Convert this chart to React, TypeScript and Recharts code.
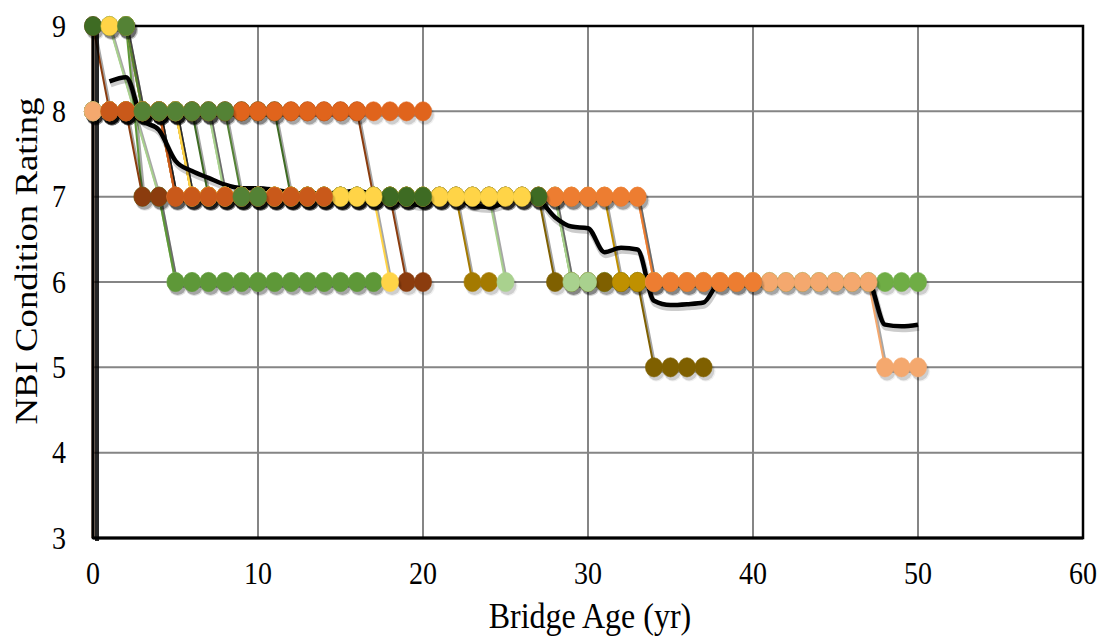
import React from "react";
import { LineChart, Line, XAxis, YAxis, CartesianGrid, ReferenceArea } from "recharts";

const xTicks = [0, 10, 20, 30, 40, 50, 60];
const yTicks = [3, 4, 5, 6, 7, 8, 9];

// one rating per year, starting at the given age
const greenBrightStart = 0;
const greenBrightRatings = [
  8, 8, 8, 8, 8,
  7, 7, 7, 7, 7, 7, 7, 7, 7, 7, 7, 7,
  7, 7, 7, 7, 7, 7, 7, 7, 7, 7, 7, 7,
  6, 6, 6, 6, 6, 6, 6, 6, 6, 6, 6,
  6, 6, 6, 6, 6, 6, 6, 6, 6, 6, 6,
];

const oliveDarkStart = 0;
const oliveDarkRatings = [
  8, 8, 8, 8, 8,
  7, 7, 7, 7, 7, 7, 7, 7, 7, 7, 7, 7,
  7, 7, 7, 7, 7, 7, 7, 7, 7, 7, 7,
  6, 6, 6, 6, 6, 6,
  5, 5, 5, 5,
];

const goldStart = 0;
const goldRatings = [
  8, 8, 8, 8, 8, 8,
  7, 7, 7, 7, 7, 7, 7, 7, 7, 7, 7, 7, 7,
  7, 7, 7, 7, 7, 7, 7, 7, 7, 7, 7, 7, 7,
  6, 6, 6,
];

const oliveStart = 0;
const oliveRatings = [
  8, 8, 8, 8, 8, 8,
  7, 7, 7, 7, 7, 7, 7, 7, 7, 7, 7, 7, 7, 7, 7, 7, 7,
  6, 6,
];

const lightGreenAStart = 1;
const lightGreenARatings = [9, null, null, 7, 6, 6, 6, 6, 6, 6, 6, 6, 6, 6, 6, 6, 6];

const greenMidStart = 2;
const greenMidRatings = [9, 7, 7, 6, 6, 6, 6, 6, 6, 6, 6, 6, 6, 6, 6, 6];

const brownAStart = 0;
const brownARatings = [9, 8, 8, 7, 7];

const brownBStart = 0;
const brownBRatings = [
  8, 8, 8, 8, 8, 8, 8, 8, 8, 8, 8, 8, 8, 8, 8, 8, 8,
  7, 7,
  6, 6,
];

const lightGreenBStart = 0;
const lightGreenBRatings = [
  8, 8, 8, 8, 8, 8, 8, 8,
  7, 7, 7, 7, 7, 7, 7, 7, 7, 7, 7, 7, 7, 7, 7, 7, 7,
  6,
];

const lightGreenCStart = 0;
const lightGreenCRatings = [
  8, 8, 8, 8, 8, 8, 8, 8,
  7, 7, 7, 7, 7, 7, 7, 7, 7, 7, 7,
  7, 7, 7, 7, 7, 7, 7, 7, 7, 7,
  6, 6,
];

const peachStart = 0;
const peachRatings = [
  8, 8, 8, 8, 8,
  7, 7, 7, 7, 7, 7, 7, 7, 7, 7,
  7, 7, 7, 7, 7, 7, 7, 7, 7, 7,
  7, 7, 7, 7, 7, 7, 7, 7, 7,
  6, 6, 6, 6, 6, 6, 6, 6, 6, 6, 6, 6, 6, 6,
  5, 5, 5,
];

const orangeStart = 1;
const orangeRatings = [
  8, 8, 8, 8,
  7, 7, 7, 7, 7, 7, 7, 7, 7, 7,
  7, 7, 7, 7, 7, 7, 7, 7, 7, 7,
  7, 7, 7, 7, 7, 7, 7, 7, 7,
  6, 6, 6, 6, 6, 6, 6,
];

const darkGreenBStart = 1;
const darkGreenBRatings = [
  8, 8, 8, 8, 8, 8,
  7, 7, 7, 7, 7, 7, 7, 7, 7, 7, 7, 7, 7, 7, 7, 7, 7, 7, 7, 7, 7,
];

const yellowBStart = 1;
const yellowBRatings = [
  8, 8, 8, 8, 8,
  7, 7, 7, 7, 7, 7, 7, 7, 7, 7, 7, 7, 7, 7, 7, 7, 7, 7, 7, 7, 7,
];

const darkGreenAStart = 0;
const darkGreenARatings = [9, 9, 9, 8, 8, 8, 8, 8, 8, 8, 8, 8, 7, 7, 7, 7, 7, 7, 7, 7, 7];

const rustStart = 1;
const rustRatings = [8, 8, 8, 8, 8, 8, 8, 8, 8, 8, 8, 8, 8, 8, 8, 8, 8, 8, 8, 8];

const yellowAStart = 1;
const yellowARatings = [9, 9, 8, 8, 8, 7, 7, 7, 7, 7, 7, 7, 7, 7, 7, 7, 7, 6];

const burntStart = 1;
const burntRatings = [8, 8, 8, 8, 7, 7, 7, 7, 7, 7, 7, 7, 7, 7];

const greenStart = 2;
const greenRatings = [9, 8, 8, 8, 8, 8, 8, 7, 7];

const orangeEdgeAges = [0, 0];
const orangeEdgeRatings = [9, 3];

// average of all bridges, ages 1..50
const averageStart = 1;
const averageRatings = [
  8.35, 8.4, 7.9, 7.78, 7.42, 7.3, 7.22, 7.14, 7.1, 7.1,
  7.08, 7.05, 7.04, 7.04, 7.05, 7.07, 7.02, 6.96, 6.93, 6.9,
  7.0, 6.98, 6.9, 6.88, 6.93, 7.0, 6.96, 6.76, 6.65, 6.63,
  6.35, 6.4, 6.38, 5.78, 5.73, 5.74, 5.76, 6.0, 6.02, 6.02,
  6.02, 6.02, 6.02, 6.02, 6.02, 6.02, 6.0, 5.5, 5.48, 5.5,
];

const toPoints = (start: number, ratings: (number | null)[]) =>
  ratings.map((r, i) => ({ age: start + i, rating: r }));

const series = [
  { id: "greenBright", color: "#6FAD45", data: toPoints(greenBrightStart, greenBrightRatings) },
  { id: "oliveDark", color: "#7F6000", data: toPoints(oliveDarkStart, oliveDarkRatings) },
  { id: "gold", color: "#BF9000", data: toPoints(goldStart, goldRatings) },
  { id: "olive", color: "#A47A00", data: toPoints(oliveStart, oliveRatings) },
  { id: "lightGreenA", color: "#A9D18E", data: toPoints(lightGreenAStart, lightGreenARatings) },
  { id: "greenMid", color: "#5E9838", data: toPoints(greenMidStart, greenMidRatings) },
  { id: "brownA", color: "#8B3C0E", data: toPoints(brownAStart, brownARatings) },
  { id: "brownB", color: "#8B3C0E", data: toPoints(brownBStart, brownBRatings) },
  { id: "lightGreenB", color: "#A9D18E", data: toPoints(lightGreenBStart, lightGreenBRatings) },
  { id: "lightGreenC", color: "#A9D18E", data: toPoints(lightGreenCStart, lightGreenCRatings) },
  { id: "peach", color: "#F4A86E", data: toPoints(peachStart, peachRatings) },
  { id: "orange", color: "#ED7D31", data: toPoints(orangeStart, orangeRatings) },
  { id: "darkGreenB", color: "#3E6B23", data: toPoints(darkGreenBStart, darkGreenBRatings) },
  { id: "yellowB", color: "#FFD447", data: toPoints(yellowBStart, yellowBRatings) },
  { id: "darkGreenA", color: "#3E6B23", data: toPoints(darkGreenAStart, darkGreenARatings) },
  { id: "rust", color: "#E0641C", data: toPoints(rustStart, rustRatings) },
  { id: "yellowA", color: "#FFD447", data: toPoints(yellowAStart, yellowARatings) },
  { id: "burnt", color: "#C9591A", data: toPoints(burntStart, burntRatings) },
  { id: "green", color: "#548235", data: toPoints(greenStart, greenRatings) },
];

const orangeEdge = orangeEdgeAges.map((a, i) => ({ age: a, rating: orangeEdgeRatings[i] }));
const average = toPoints(averageStart, averageRatings);

const SERIF = "'Liberation Serif', 'Times New Roman', serif";

// marker with a soft offset shadow, like the Excel shadow effect
const makeDot = (color: string) => (props: any) => {
  const { cx, cy, index, payload } = props;
  if (cx == null || cy == null || payload == null || payload.rating == null) {
    return <g key={`d-${index}`} />;
  }
  return (
    <g key={`d-${index}`}>
      <ellipse cx={cx + 2.5} cy={cy + 4} rx={9.6} ry={10.2} fill="#000" fillOpacity={0.06} />
      <ellipse cx={cx + 2} cy={cy + 3.5} rx={8.8} ry={9.6} fill="#000" fillOpacity={0.14} />
      <ellipse cx={cx} cy={cy} rx={8.6} ry={9.6} fill={color} stroke={color} strokeOpacity={0.6} strokeWidth={1} />
    </g>
  );
};

const shadowStyle = { transform: "translate(2px, 4px)" };

const XTick = ({ x, y, payload }: any) => (
  <text
    transform={`translate(${x},${y + 46}) scale(1,1.15)`}
    textAnchor="middle"
    fontFamily={SERIF}
    fontSize={28}
    fill="#000"
  >
    {payload.value}
  </text>
);

const YTick = ({ x, y, payload }: any) => (
  <text
    transform={`translate(${x - 27},${y + 10.5}) scale(1,1.15)`}
    textAnchor="end"
    fontFamily={SERIF}
    fontSize={28}
    fill="#000"
  >
    {payload.value}
  </text>
);

export default function App() {
  return (
    <div style={{ position: "absolute", left: 0, top: 0, width: 1107, height: 640, background: "#fff" }}>
      <LineChart width={1107} height={640} margin={{ top: 26, right: 24, bottom: 40, left: 33 }}>
        <CartesianGrid stroke="#858585" strokeWidth={2} />
        <XAxis
          type="number"
          dataKey="age"
          domain={[0, 60]}
          ticks={xTicks}
          height={62}
          tickSize={0}
          tickMargin={0}
          tickLine={false}
          axisLine={{ stroke: "#000", strokeWidth: 3 }}
          tick={<XTick />}
        />
        <YAxis
          type="number"
          dataKey="rating"
          domain={[3, 9]}
          ticks={yTicks}
          width={60}
          tickSize={0}
          tickMargin={0}
          tickLine={false}
          axisLine={{ stroke: "#000", strokeWidth: 3 }}
          tick={<YTick />}
        />
        <ReferenceArea x1={0} x2={60} y1={3} y2={9} fill="none" stroke="#000" strokeWidth={2.5} />
        {series.flatMap((s) => [
          <Line
            key={`${s.id}-shadow`}
            data={s.data}
            dataKey="rating"
            type="linear"
            stroke="#000"
            strokeOpacity={0.35}
            strokeWidth={3}
            style={shadowStyle}
            connectNulls
            dot={false}
            activeDot={false}
            isAnimationActive={false}
          />,
          <Line
            key={s.id}
            data={s.data}
            dataKey="rating"
            type="linear"
            stroke={s.color}
            strokeWidth={2}
            connectNulls
            dot={makeDot(s.color)}
            activeDot={false}
            isAnimationActive={false}
          />,
        ])}
        <Line
          data={orangeEdge}
          dataKey="rating"
          type="linear"
          stroke="#000"
          strokeOpacity={0.85}
          strokeWidth={4}
          style={{ transform: "translate(4px, 3px)" }}
          dot={false}
          activeDot={false}
          isAnimationActive={false}
        />
        <Line
          data={orangeEdge}
          dataKey="rating"
          type="linear"
          stroke="#ED7D31"
          strokeWidth={2.5}
          dot={false}
          activeDot={false}
          isAnimationActive={false}
        />
        <Line
          data={average}
          dataKey="rating"
          type="monotone"
          stroke="#000"
          strokeOpacity={0.2}
          strokeWidth={6}
          style={{ transform: "translate(1px, 3px)" }}
          dot={false}
          activeDot={false}
          isAnimationActive={false}
        />
        <Line
          data={average}
          dataKey="rating"
          type="monotone"
          stroke="#000"
          strokeWidth={4.5}
          dot={false}
          activeDot={false}
          isAnimationActive={false}
        />
      </LineChart>
      <svg width={1107} height={640} style={{ position: "absolute", left: 0, top: 0, pointerEvents: "none" }}>
        <text
          transform="translate(590,628) scale(1,1.15)"
          textAnchor="middle"
          fontFamily={SERIF}
          fontSize={32}
          fill="#000"
        >
          Bridge Age (yr)
        </text>
        <text
          transform="translate(37,261) scale(1,1.15) rotate(-90)"
          textAnchor="middle"
          fontFamily={SERIF}
          fontSize={32}
          fill="#000"
        >
          NBI Condition Rating
        </text>
      </svg>
    </div>
  );
}
